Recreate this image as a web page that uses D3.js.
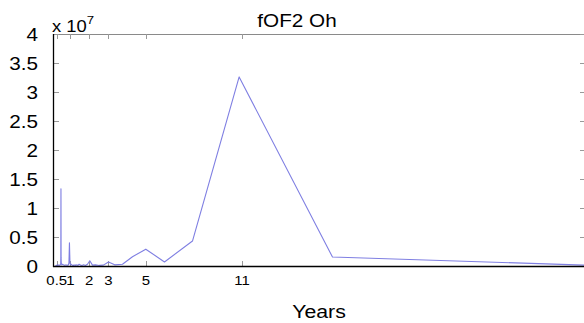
<!DOCTYPE html>
<html>
<head>
<meta charset="utf-8">
<script src="https://cdn.jsdelivr.net/npm/d3@7"></script>
<style>
  html, body { margin: 0; padding: 0; background: #fff; }
  svg { display: block; font-family: "Liberation Sans", Arial, Helvetica, sans-serif; }
</style>
</head>
<body>
<svg id="chart" width="584" height="323"></svg>
<script>
// ---- data (period in years, power in units of 1e7) ----
const periods = [33, 16.5, 11, 8.25, 6.6, 5.5, 4.714, 4.125, 3.667, 3.3, 3.0, 2.75, 2.538, 2.357, 2.2,
  2.063, 1.941, 1.833, 1.737, 1.65, 1.571, 1.5, 1.435, 1.375, 1.32, 1.269, 1.222, 1.179, 1.138, 1.1,
  1.065, 1.031, 1.0, 0.971, 0.943, 0.9, 0.85, 0.8, 0.75, 0.7, 0.65, 0.6, 0.55, 0.52, 0.508, 0.5,
  0.492, 0.485, 0.46, 0.42, 0.38, 0.34, 0.3, 0.26, 0.22, 0.18, 0.165];
const power = [0.0, 0.155, 3.26, 0.43, 0.07, 0.29, 0.16, 0.03, 0.02, 0.07, 0.015, 0.01, 0.02, 0.015, 0.09,
  0.03, 0.01, 0.02, 0.01, 0.015, 0.03, 0.01, 0.02, 0.01, 0.02, 0.01, 0.015, 0.01, 0.02, 0.03,
  0.02, 0.05, 0.40, 0.06, 0.02, 0.01, 0.02, 0.01, 0.02, 0.01, 0.02, 0.03, 0.02, 0.05, 0.14, 1.33,
  0.15, 0.04, 0.02, 0.01, 0.02, 0.01, 0.02, 0.01, 0.01, 0.0, 0.0];
const xTickValues = [0.25, 1.06, 2.16, 3.29, 5.51, 11.17];
const xTickLabels = ["0.5", "1", "2", "3", "5", "11"];
const yTickValues = [0, 0.5, 1, 1.5, 2, 2.5, 3, 3.5, 4];
const yTickLabels = ["0", "0.5", "1", "1.5", "2", "2.5", "3", "3.5", "4"];
const titleText = "fOF2 Oh";
const xLabelText = "Years";

// ---- layout ----
const L = 54, R = 585, T = 34, B = 266;
const SX = 1.15; // horizontal text stretch of the reference

const svg = d3.select("#chart");
const x = d3.scaleLinear().domain([0.09, 31.38]).range([L, R]);
const y = d3.scaleLinear().domain([0, 4]).range([B, T]);

function stretchedText(g, tx, ty, str, size, anchor) {
  return g.append("text")
    .attr("transform", `translate(${tx},${ty}) scale(${SX},1)`)
    .attr("text-anchor", anchor)
    .attr("font-size", size)
    .attr("fill", "#000")
    .text(str);
}

// clip
svg.append("defs").append("clipPath").attr("id", "clip")
  .append("rect").attr("x", L).attr("y", T).attr("width", R - L).attr("height", B - T);

// top border
svg.append("line").attr("x1", L).attr("x2", R).attr("y1", T + 0.5).attr("y2", T + 0.5)
  .attr("stroke", "#8a8a8a").attr("stroke-width", 1);
// right border
svg.append("line").attr("x1", R - 0.5).attr("x2", R - 0.5).attr("y1", T).attr("y2", B)
  .attr("stroke", "#8a8a8a").attr("stroke-width", 1);

// ticks (inward)
const tickG = svg.append("g").attr("stroke", "#999").attr("stroke-width", 1);
xTickValues.forEach(v => {
  const px = Math.round(x(v)) + 0.5;
  tickG.append("line").attr("x1", px).attr("x2", px).attr("y1", B).attr("y2", B - 5);
  tickG.append("line").attr("x1", px).attr("x2", px).attr("y1", T).attr("y2", T + 5);
});
yTickValues.forEach(v => {
  const py = Math.round(y(v)) + 0.5;
  tickG.append("line").attr("x1", L).attr("x2", L + 5).attr("y1", py).attr("y2", py);
  tickG.append("line").attr("x1", R - 5).attr("x2", R).attr("y1", py).attr("y2", py);
});

// data line
const line = d3.line().x((d, i) => x(periods[i])).y((d, i) => y(power[i]));
svg.append("path")
  .datum(power)
  .attr("clip-path", "url(#clip)")
  .attr("d", line)
  .attr("fill", "none")
  .attr("stroke", "#7f7fe2")
  .attr("stroke-width", 1.1)
  .attr("stroke-linejoin", "round");

// axes lines (black)
svg.append("line").attr("x1", L - 0.5).attr("x2", L - 0.5).attr("y1", T).attr("y2", B + 1)
  .attr("stroke", "#000").attr("stroke-width", 1.3);
svg.append("line").attr("x1", L - 1).attr("x2", R).attr("y1", B + 0.5).attr("y2", B + 0.5)
  .attr("stroke", "#000").attr("stroke-width", 1.3);

// tick labels
const labG = svg.append("g");
yTickValues.forEach((v, i) => {
  stretchedText(labG, 38, y(v) + 6.5, yTickLabels[i], 18, "end");
});
xTickValues.forEach((v, i) => {
  stretchedText(labG, x(v), 285, xTickLabels[i], 13, "middle");
});

// exponent label
const ex = labG.append("text")
  .attr("transform", `translate(52,32) scale(${SX},1)`)
  .attr("font-size", 16).attr("fill", "#000");
ex.append("tspan").text("x 10");
ex.append("tspan").attr("dy", -8).attr("font-size", 11.5).text("7");

// title and x label
stretchedText(labG, 297, 27, titleText, 18, "middle");
stretchedText(labG, 319, 318, xLabelText, 18.5, "middle");
</script>
</body>
</html>
